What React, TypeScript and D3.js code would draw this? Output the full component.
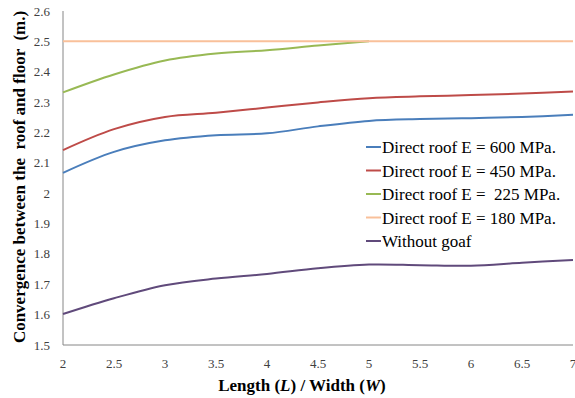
import React from 'react';
import * as d3 from 'd3';

const ratios = [2, 2.5, 3, 3.5, 4, 4.5, 5, 5.5, 6, 6.5, 7];
const e600 = [2.067, 2.136, 2.174, 2.191, 2.197, 2.22, 2.238, 2.244, 2.247, 2.251, 2.258];
const e450 = [2.142, 2.211, 2.251, 2.265, 2.282, 2.299, 2.313, 2.319, 2.323, 2.328, 2.335];
const e225 = [2.332, 2.391, 2.437, 2.46, 2.471, 2.486, 2.5];
const e180 = [2.5, 2.5, 2.5, 2.5, 2.5, 2.5, 2.5, 2.5, 2.5, 2.5, 2.5];
const noGoaf = [1.602, 1.654, 1.697, 1.719, 1.734, 1.753, 1.765, 1.763, 1.761, 1.771, 1.78];

const seriesNames = [
  'Direct roof E = 600 MPa.',
  'Direct roof E = 450 MPa.',
  'Direct roof E =  225 MPa.',
  'Direct roof E = 180 MPa.',
  'Without goaf',
];
const seriesValues = [e600, e450, e225, e180, noGoaf];
const colors = ['#4A7EBB', '#BE4B48', '#98B954', '#F9C09A', '#604A7B'];
const xTicks = [2, 2.5, 3, 3.5, 4, 4.5, 5, 5.5, 6, 6.5, 7];
const yTicks = [1.5, 1.6, 1.7, 1.8, 1.9, 2, 2.1, 2.2, 2.3, 2.4, 2.5, 2.6];

const W = 575;
const H = 398;
const m = { left: 63, right: 2, top: 11, bottom: 53 };
const F = 'Liberation Serif';

export default function App() {
  const x = d3.scaleLinear().domain([2, 7]).range([m.left, W - m.right]);
  const y = d3.scaleLinear().domain([1.5, 2.6]).range([H - m.bottom, m.top]);
  const line = d3
    .line<[number, number]>()
    .x((d) => x(d[0]))
    .y((d) => y(d[1]))
    .curve(d3.curveCatmullRom.alpha(0.5));

  return (
    <svg width={W} height={H} style={{ position: 'absolute', left: 0, top: 0, background: '#fff' }}>
      {/* axes */}
      <line x1={x(2)} x2={x(2)} y1={y(1.5)} y2={y(2.6)} stroke="#868686" strokeWidth={1} />
      <line x1={x(2)} x2={x(7)} y1={y(1.5)} y2={y(1.5)} stroke="#868686" strokeWidth={1} />

      {yTicks.map((t) => (
        <text key={t} x={m.left - 13} y={y(t) + 4.5} textAnchor="end" fontSize={13} fontFamily={F} fill="#404040">
          {d3.format('~g')(t)}
        </text>
      ))}
      {xTicks.map((t) => (
        <text key={t} x={x(t)} y={y(1.5) + 22.5} textAnchor="middle" fontSize={13} fontFamily={F} fill="#404040">
          {d3.format('~g')(t)}
        </text>
      ))}

      {seriesValues.map((vals, i) => (
        <path
          key={i}
          d={line(vals.map((v, j) => [ratios[j], v] as [number, number])) || ''}
          fill="none"
          stroke={colors[i]}
          strokeWidth={2}
        />
      ))}

      {/* legend */}
      {seriesNames.map((name, i) => (
        <g key={name} transform={`translate(366, ${147 + i * 23.5})`}>
          <line x1={0} x2={15} y1={0} y2={0} stroke={colors[i]} strokeWidth={2} />
          <text x={16} y={6} fontSize={17} fontFamily={F} fill="#000" xmlSpace="preserve">
            {name}
          </text>
        </g>
      ))}

      {/* axis titles */}
      <text x={302} y={391} textAnchor="middle" fontSize={17} fontWeight="bold" fontFamily={F} fill="#000">
        Length (<tspan fontStyle="italic">L</tspan>) / Width (<tspan fontStyle="italic">W</tspan>)
      </text>
      <text
        transform={`translate(25, 177) rotate(-90)`}
        textAnchor="middle"
        fontSize={17}
        fontWeight="bold"
        fontFamily={F}
        fill="#000"
        xmlSpace="preserve"
      >
        Convergence between the  roof and floor  (m.)
      </text>
    </svg>
  );
}
